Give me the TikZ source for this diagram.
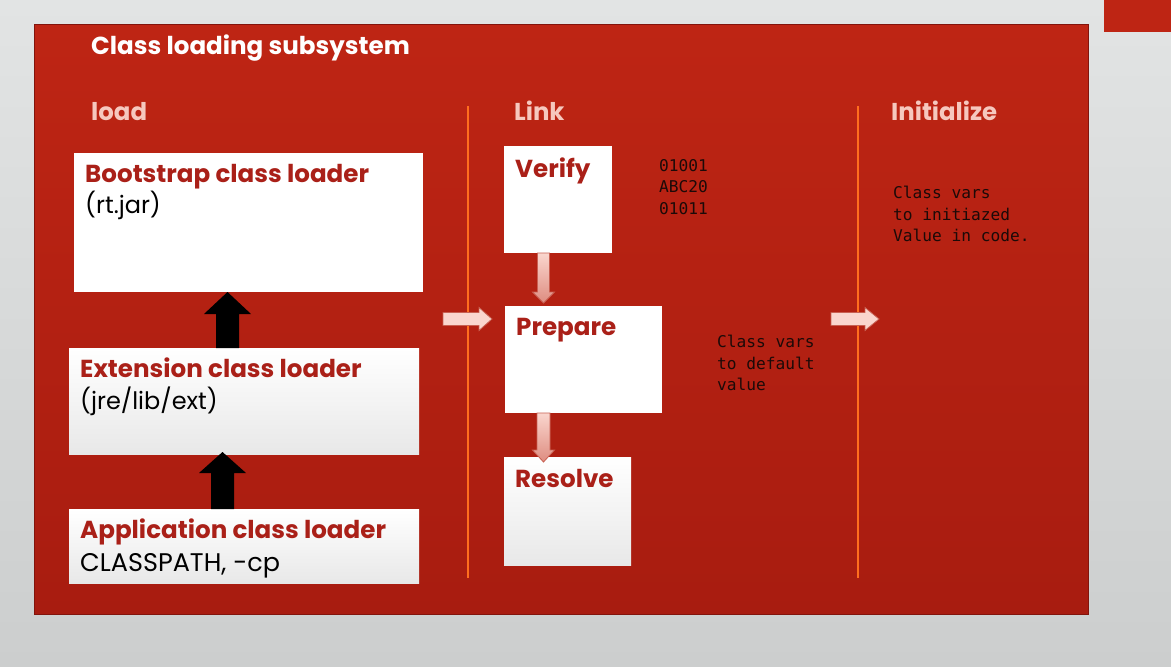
\documentclass[tikz,border=0pt]{standalone}
\usepackage{fontspec}
\setmainfont{Poppins}
\newfontfamily\codefont{DejaVu Sans Mono}
\usetikzlibrary{calc}
\definecolor{bgtop}{RGB}{226,228,228}
\definecolor{bgbot}{RGB}{204,206,206}
\definecolor{paneltop}{RGB}{190,37,20}
\definecolor{panelbot}{RGB}{168,28,16}
\definecolor{paneledge}{RGB}{130,20,12}
\definecolor{headpink}{RGB}{246,200,190}
\definecolor{titlered}{RGB}{170,32,24}
\definecolor{orangeline}{RGB}{255,110,30}
\definecolor{arrowpink}{RGB}{250,214,206}
\definecolor{arrowpinkdark}{RGB}{222,140,128}
\definecolor{arrowedge}{RGB}{200,96,82}
\definecolor{codeink}{RGB}{28,10,8}
\newcommand{\vblk}[6]{% style, start, tip, half shaft, half head, signed head length
  \path[#1] let \p1=(#2), \p2=(#3) in
    ({\x2-#4},\y1) -- ({\x2-#4},{\y2-(#6)}) -- ({\x2-#5},{\y2-(#6)}) -- (\x2,\y2)
    -- ({\x2+#5},{\y2-(#6)}) -- ({\x2+#4},{\y2-(#6)}) -- ({\x2+#4},\y1) -- cycle;}
\newcommand{\hblk}[6]{% style, start, tip, half shaft, half head, head length
  \path[#1] let \p1=(#2), \p2=(#3) in
    (\x1,{\y2+#4}) -- ({\x2-#6},{\y2+#4}) -- ({\x2-#6},{\y2+#5}) -- (\x2,\y2)
    -- ({\x2-#6},{\y2-#5}) -- ({\x2-#6},{\y2-#4}) -- (\x1,{\y2-#4}) -- cycle;}
\tikzset{
  box/.style={rectangle, inner sep=0pt, outer sep=0pt, anchor=north west, fill=white},
  graybox/.style={box, top color=white, bottom color=black!9},
  boxtitle/.style={inner sep=0pt, anchor=base west, text=titlered, font=\bfseries\fontsize{24.6}{28}\selectfont},
  boxsub/.style={inner sep=0pt, anchor=base west, text=black, font=\fontsize{24}{28}\selectfont},
  header/.style={inner sep=0pt, anchor=base west, text=headpink, font=\bfseries\fontsize{24.4}{28}\selectfont},
  code/.style={inner sep=0pt, anchor=north west, align=left, text=codeink, font=\codefont\fontsize{16.2}{21.5}\selectfont},
  blackarrow/.style={fill=black},
  pinkarrow/.style={fill=arrowpink, draw=arrowedge, line width=0.8pt, line join=miter},
  pinkdown/.style={top color=arrowpink, bottom color=arrowpinkdark, draw=arrowedge, line width=0.8pt},
  divider/.style={draw=orangeline, line width=1.6pt}
}
\begin{document}
\begin{tikzpicture}[x=1pt,y=-1pt]
\useasboundingbox (0,0) rectangle (1171,667);
% background
\shade[top color=bgtop, bottom color=bgbot] (0,0) rectangle (1171,667);
\fill[paneltop] (1104,0) rectangle (1171,32);
% red panel
\shade[top color=paneltop, bottom color=panelbot] (34,24) rectangle (1088,614);
\draw[paneledge, line width=1pt] (34,24) rectangle (1088,614);

% title and headers
\node[inner sep=0pt, anchor=base west, text=white, font=\bfseries\fontsize{24.6}{28}\selectfont] (title) at (91,54) {Class loading subsystem};
\node[header] (hload) at (91,120) {load};
\node[header] (hlink) at (514,120) {Link};
\node[header] (hinit) at (891,120) {Initialize};

% dividers
\coordinate (d1t) at (468,106);
\coordinate (d1b) at (468,578);
\coordinate (d2t) at (858,106);
\coordinate (d2b) at (858,578);
\draw[divider] (d1t) -- (d1b);
\draw[divider] (d2t) -- (d2b);

% load column boxes
\node[box, minimum width=349pt, minimum height=139pt] (boot) at (74,153) {};
\node[graybox, minimum width=350pt, minimum height=106pt] (ext) at (69,348) {};
\node[graybox, minimum width=350pt, minimum height=74pt] (app) at (69,509) {};

\node[boxtitle] (boott) at (85,182) {Bootstrap class loader};
\node[boxsub] (boots) at (85,213) {(rt.jar)};
\node[boxtitle] (extt) at (80,377) {Extension class loader};
\node[boxsub] (exts) at (80,409) {(jre/lib/ext)};
\node[boxtitle] (appt) at (80,538) {Application class loader};
\node[boxsub, font=\fontsize{25.5}{28}\selectfont] (apps) at (80,571) {CLASSPATH, -cp};

% black arrows
\vblk{blackarrow}{ext.north}{$(boot.south)+(-21,0)$}{11.5pt}{23.5pt}{22pt}
\vblk{blackarrow}{app.north}{$(ext.south)+(-21.5,-2)$}{11.5pt}{23.5pt}{21pt}

% link column boxes
\node[box, minimum width=108pt, minimum height=107pt] (ver) at (504,146) {};
\node[box, minimum width=157pt, minimum height=107pt] (prep) at (505,306) {};
\node[graybox, minimum width=127pt, minimum height=108pt] (res) at (504,457) {};

\node[boxtitle] (vert) at (515,177) {Verify};
\node[boxtitle] (prept) at (516,335) {Prepare};
\node[boxtitle] (rest) at (515,487) {Resolve};

% pink down arrows
\vblk{pinkdown}{ver.south}{$(prep.north)+(-40,-3)$}{6pt}{11pt}{-11pt}
\vblk{pinkdown}{prep.south}{$(res.north)+(-24,5)$}{6.5pt}{11pt}{-12pt}

% pink right arrows
\coordinate (r1s) at (443,319);
\coordinate (r1t) at (492,319);
\coordinate (r2s) at (831,319);
\coordinate (r2t) at (879,319);
\hblk{pinkarrow}{r1s}{r1t}{6.5pt}{11.5pt}{13pt}
\hblk{pinkarrow}{r2s}{r2t}{6.5pt}{11.5pt}{14pt}

% code notes
\node[code] (bytes) at (659,159) {01001\\ABC20\\01011};
\node[code] (prepnote) at (717,335) {Class vars\\to default\\value};
\node[code] (initnote) at (893,186) {Class vars\\to initiazed\\Value in code.};
\end{tikzpicture}
\end{document}
